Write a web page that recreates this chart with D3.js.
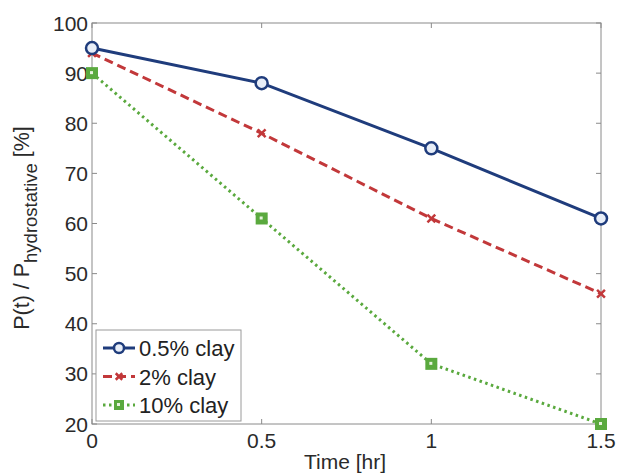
<!DOCTYPE html>
<html>
<head>
<meta charset="utf-8">
<script src="https://cdn.jsdelivr.net/npm/d3@7"></script>
<style>
  body { margin: 0; background: #fff; }
  svg { display: block; font-family: "Liberation Sans", Arial, sans-serif; }
</style>
</head>
<body>
<div id="chart"></div>
<script>
// data
const times = [0, 0.5, 1, 1.5];
const clay05 = [95, 88, 75, 61];
const clay2 = [94, 78, 61, 46];
const clay10 = [90, 61, 32, 20];
const xTicks = [0, 0.5, 1, 1.5];
const yTicks = [20, 30, 40, 50, 60, 70, 80, 90, 100];
const seriesNames = ["0.5% clay", "2% clay", "10% clay"];

const width = 618, height = 476;
const margin = {left: 92, right: 17, top: 23, bottom: 52};

const svg = d3.select("#chart").append("svg")
    .attr("width", width).attr("height", height);

const x = d3.scaleLinear().domain([0, 1.5]).range([margin.left, width - margin.right]);
const y = d3.scaleLinear().domain([20, 100]).range([height - margin.bottom, margin.top]);

const axisColor = "#8a8a8a";
const textColor = "#2a2a2a";

// frame
svg.append("rect")
    .attr("x", x(0)).attr("y", y(100))
    .attr("width", x(1.5) - x(0)).attr("height", y(20) - y(100))
    .attr("fill", "white").attr("stroke", axisColor).attr("stroke-width", 1);

// inward ticks on all four sides
const tickLen = 5;
const g = svg.append("g");
xTicks.forEach(t => {
    g.append("line").attr("x1", x(t)).attr("x2", x(t))
        .attr("y1", y(20)).attr("y2", y(20) - tickLen).attr("stroke", axisColor);
    g.append("line").attr("x1", x(t)).attr("x2", x(t))
        .attr("y1", y(100)).attr("y2", y(100) + tickLen).attr("stroke", axisColor);
    g.append("text").attr("x", x(t)).attr("y", y(20) + 24)
        .attr("text-anchor", "middle").attr("font-size", 21).attr("fill", textColor)
        .text(d3.format("~g")(t));
});
yTicks.forEach(t => {
    g.append("line").attr("x1", x(0)).attr("x2", x(0) + tickLen)
        .attr("y1", y(t)).attr("y2", y(t)).attr("stroke", axisColor);
    g.append("line").attr("x1", x(1.5)).attr("x2", x(1.5) - tickLen)
        .attr("y1", y(t)).attr("y2", y(t)).attr("stroke", axisColor);
    g.append("text").attr("x", x(0) - 4).attr("y", y(t) + 7.5)
        .attr("text-anchor", "end").attr("font-size", 21).attr("fill", textColor)
        .text(t);
});

// axis titles
svg.append("text")
    .attr("x", 345).attr("y", height - 7)
    .attr("text-anchor", "middle").attr("font-size", 21).attr("fill", textColor)
    .text("Time [hr]");

const yTitle = svg.append("text")
    .attr("transform", `translate(29,228) rotate(-90)`)
    .attr("text-anchor", "middle").attr("font-size", 21.5).attr("fill", textColor);
yTitle.append("tspan").text("P(t) / P");
yTitle.append("tspan").attr("dy", 8).attr("font-size", 18.5).text("hydrostative");
yTitle.append("tspan").attr("dy", -8).text(" [%]");

// series
const series = [
    {name: seriesNames[0], vals: clay05, color: "#1f3c7c", dash: null, marker: "circle"},
    {name: seriesNames[1], vals: clay2, color: "#c2383a", dash: "9,5", marker: "x"},
    {name: seriesNames[2], vals: clay10, color: "#5aa93e", dash: "2.5,3.5", marker: "square"}
];

const line = d3.line().x((d, i) => x(times[i])).y(d => y(d));

const drawMarker = (sel, type, color, cx, cy, r) => {
    if (type === "circle") {
        sel.append("circle").attr("cx", cx).attr("cy", cy).attr("r", r)
            .attr("fill", "#e8eef8").attr("stroke", color).attr("stroke-width", 2.5);
    } else if (type === "x") {
        const s = r * 0.65;
        sel.append("path")
            .attr("d", `M${cx - s},${cy - s}L${cx + s},${cy + s}M${cx - s},${cy + s}L${cx + s},${cy - s}`)
            .attr("stroke", color).attr("stroke-width", 2.5);
    } else {
        sel.append("rect").attr("x", cx - r).attr("y", cy - r)
            .attr("width", 2 * r).attr("height", 2 * r).attr("fill", color);
        sel.append("rect").attr("x", cx - 2).attr("y", cy - 2)
            .attr("width", 3).attr("height", 3).attr("fill", "#e6f2dd");
    }
};

// draw green first so blue sits on top
[...series].reverse().forEach(s => {
    svg.append("path").datum(s.vals)
        .attr("d", line)
        .attr("fill", "none")
        .attr("stroke", s.color)
        .attr("stroke-width", 3)
        .attr("stroke-dasharray", s.dash);
    const mg = svg.append("g");
    s.vals.forEach((v, i) => drawMarker(mg, s.marker, s.color, x(times[i]), y(v), 6));
});

// legend
const lg = svg.append("g");
lg.append("rect").attr("x", 96).attr("y", 330).attr("width", 145).attr("height", 91)
    .attr("fill", "white").attr("stroke", "#9a9a9a").attr("stroke-width", 1);
series.forEach((s, i) => {
    const ly = 348 + i * 28.5;
    lg.append("line").attr("x1", 103).attr("x2", 135).attr("y1", ly).attr("y2", ly)
        .attr("stroke", s.color).attr("stroke-width", 3).attr("stroke-dasharray", s.dash);
    drawMarker(lg, s.marker, s.color, 119, ly, 5);
    lg.append("text").attr("x", 139).attr("y", ly + 8)
        .attr("font-size", 22).attr("fill", "#222").text(s.name);
});
</script>
</body>
</html>
